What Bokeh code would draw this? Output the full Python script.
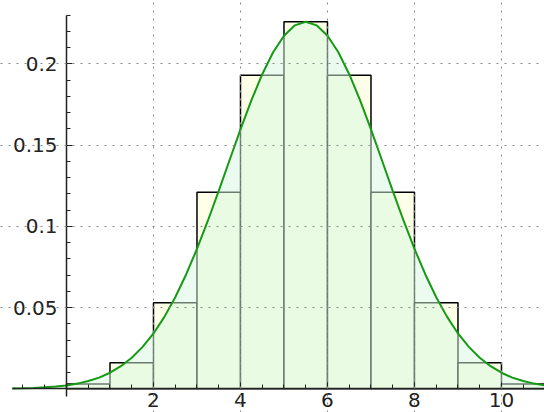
from bokeh.plotting import figure
from bokeh.models import FixedTicker, CustomJSTickFormatter, Range1d
from bokeh.embed import file_html
from bokeh.resources import INLINE

# --- data ---
bin_left = [0, 1, 2, 3, 4, 5, 6, 7, 8, 9, 10]
bin_right = [1, 2, 3, 4, 5, 6, 7, 8, 9, 10, 11]
bar_heights = [0.003, 0.016, 0.053, 0.121, 0.193, 0.226, 0.193, 0.121, 0.053, 0.016, 0.003]

curve_x = [-1.25, -1.0, -0.75, -0.5, -0.25, 0.0, 0.25, 0.5, 0.75, 1.0, 1.25, 1.5, 1.75,
           2.0, 2.25, 2.5, 2.75, 3.0, 3.25, 3.5, 3.75, 4.0, 4.25, 4.5, 4.75, 5.0, 5.25,
           5.5, 5.75, 6.0, 6.25, 6.5, 6.75, 7.0, 7.25, 7.5, 7.75, 8.0, 8.25, 8.5, 8.75,
           9.0, 9.25, 9.5, 9.75, 10.0, 10.25, 10.5, 10.75, 11.0, 11.25, 11.5, 11.75,
           12.0, 12.25]
curve_y = [0.0002, 0.0003, 0.0005, 0.0009, 0.0014, 0.0021, 0.0032, 0.0048, 0.0069,
           0.0099, 0.0139, 0.0191, 0.0258, 0.0341, 0.0443, 0.0564, 0.0704, 0.0862,
           0.1035, 0.1219, 0.1409, 0.1597, 0.1776, 0.1937, 0.2072, 0.2174, 0.2238,
           0.2260,
           0.2238, 0.2174, 0.2072, 0.1937, 0.1776, 0.1597, 0.1409, 0.1219, 0.1035,
           0.0862, 0.0704, 0.0564, 0.0443, 0.0341, 0.0258, 0.0191, 0.0139, 0.0099,
           0.0069, 0.0048, 0.0032, 0.0021, 0.0014, 0.0009, 0.0005, 0.0003, 0.0002]

x_major_ticks = [2, 4, 6, 8, 10]
x_minor_ticks = [-1, -0.5, 0, 0.5, 1, 1.5, 2.5, 3, 3.5, 4.5, 5, 5.5, 6.5, 7, 7.5,
                 8.5, 9, 9.5, 10.5, 11]
y_major_ticks = [0.05, 0.1, 0.15, 0.2]
y_minor_ticks = [0.01, 0.02, 0.03, 0.04, 0.06, 0.07, 0.08, 0.09, 0.11, 0.12, 0.13,
                 0.14, 0.16, 0.17, 0.18, 0.19, 0.21, 0.22, 0.23]

FONT = "DejaVu Sans"
AXIS_COLOR = "#222222"

p = figure(width=544, height=412, output_backend="svg", toolbar_location=None,
           x_range=Range1d(-1.517, 10.989), y_range=Range1d(-0.01459, 0.2391),
           min_border=0, min_border_left=0, min_border_right=0,
           min_border_top=0, min_border_bottom=0)
p.outline_line_color = None
p.background_fill_color = "white"
p.border_fill_color = "white"

# bars
p.quad(left=bin_left, right=bin_right, top=bar_heights, bottom=0,
       fill_color="#fdffe9", line_color="black", line_width=1.5)

# filled area under curve (drawn over bars)
p.varea(x=curve_x, y1=0, y2=curve_y, fill_color="#d8f8e0", fill_alpha=0.5)

# curve
p.line(x=curve_x, y=curve_y, line_color="#159a15", line_width=2)

# axes through the origin
for ax in (p.xaxis[0], p.yaxis[0]):
    ax.fixed_location = 0
    ax.axis_line_color = AXIS_COLOR
    ax.axis_line_width = 1.5
    ax.major_tick_line_color = AXIS_COLOR
    ax.minor_tick_line_color = AXIS_COLOR
    ax.major_tick_in = 6
    ax.major_tick_out = 0
    ax.minor_tick_in = 4
    ax.minor_tick_out = 0
    ax.major_label_text_font = FONT
    ax.major_label_text_font_size = "20px"
    ax.major_label_text_color = AXIS_COLOR

p.xaxis.ticker = FixedTicker(ticks=x_major_ticks, minor_ticks=x_minor_ticks)
p.yaxis.ticker = FixedTicker(ticks=y_major_ticks, minor_ticks=y_minor_ticks)
p.xaxis.bounds = (-1.24, 11)
p.yaxis.bounds = (-0.005, 0.23)
p.xaxis.major_label_standoff = 4
p.yaxis.major_label_standoff = 9
p.yaxis.formatter = CustomJSTickFormatter(
    code="return (Math.round(tick * 100) / 100).toString();")
p.xaxis.formatter = CustomJSTickFormatter(code="return tick.toString();")

# dotted grid drawn on top
for g in (p.xgrid[0], p.ygrid[0]):
    g.grid_line_color = "#8a8a8a"
    g.grid_line_dash = "2 6"
    g.grid_line_width = 1
    g.level = "annotation"
p.xgrid.ticker = FixedTicker(ticks=x_major_ticks)
p.ygrid.ticker = FixedTicker(ticks=y_major_ticks)

open("out.html", "w").write(file_html(p, INLINE))
